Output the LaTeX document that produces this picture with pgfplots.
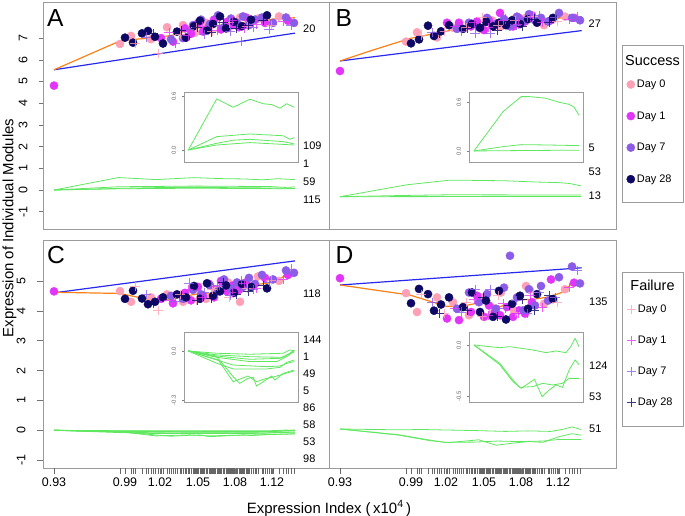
\documentclass[border=0pt]{standalone}
\usepackage{pgfplots}
\pgfplotsset{compat=1.18}
\usepackage{pgfplotstable}
\usepackage{fontspec}
\setmainfont{Liberation Sans}

\definecolor{cD0}{RGB}{255,160,182}
\definecolor{cD1}{RGB}{226,52,250}
\definecolor{cD7}{RGB}{140,92,232}
\definecolor{cD28}{RGB}{12,8,100}
\definecolor{corange}{RGB}{255,128,20}
\definecolor{cblue}{RGB}{40,40,245}
\definecolor{cgreen}{RGB}{95,232,95}
\definecolor{cframe}{RGB}{155,155,155}

% Success (circles): u = position along expression index, yA..yD = module expression in panels A..D
\pgfplotstableread{
u yA yB yC yD
77 6.73 6.33 4.66 4.18
88 7.10 6.71 4.30 3.60
108 6.95 6.50 4.45 4.05
124 7.50 6.90 4.55 3.90
140 7.60 7.05 4.30 3.50
152 7.25 6.85 4.75 4.05
163 7.70 7.20 4.40 3.55
172 7.85 6.95 4.70 4.20
185 7.45 7.25 4.95 3.65
197 7.95 7.30 4.30 4.40
215 7.90 7.00 5.15 3.85
236 8.00 7.35 5.00 4.30
}\sdzero
\pgfplotstableread{
u yA yB yC yD
11 4.81 5.13 4.65 4.64
118 7.00 7.10 4.40 3.40
130 6.84 7.10 4.25 3.35
142 7.45 6.95 4.60 3.60
148 7.20 7.15 4.35 4.10
155 7.70 6.80 4.80 3.45
160 7.30 7.20 4.50 3.80
166 7.55 7.00 4.90 3.60
171 7.85 7.50 4.45 3.50
178 7.40 7.10 5.00 3.75
184 7.75 6.95 4.65 3.45
190 7.60 7.30 4.85 3.65
196 7.50 7.15 4.70 3.55
203 7.95 7.40 4.95 3.90
222 7.70 7.20 5.10 4.60
245 7.80 7.30 5.20 4.50
}\sdone
\pgfplotstableread{
u yA yB yC yD
128 6.95 6.85 4.50 3.70
140 7.00 7.10 4.40 4.20
150 7.60 6.90 4.70 3.90
158 7.85 7.30 4.55 4.15
167 7.65 7.05 4.85 3.70
175 8.05 7.25 4.65 4.35
181 7.50 6.95 5.05 5.33
188 7.90 7.35 4.75 4.05
194 7.70 7.15 4.95 3.65
200 8.00 7.45 4.80 4.30
206 7.60 7.20 5.10 3.80
212 7.85 7.30 4.90 4.40
219 7.95 7.15 5.20 3.95
230 7.70 7.50 5.05 4.67
243 7.95 7.30 5.35 5.00
251 7.70 7.20 5.27 4.48
}\sdseven
\pgfplotstableread{
u yA yB yC yD
82 7.02 6.26 4.40 3.87
90 6.79 6.42 4.67 4.31
99 7.22 6.98 4.41 4.15
105 7.33 6.56 4.22 3.64
112 7.06 6.75 4.30 3.83
120 6.75 7.00 4.45 4.05
134 7.30 6.85 4.55 3.75
143 7.02 7.05 4.45 4.20
151 7.55 6.90 4.83 3.60
157 7.80 7.15 4.40 3.95
164 7.35 6.95 4.92 3.45
170 7.65 7.10 4.50 4.25
177 8.00 7.00 4.65 3.37
183 7.45 7.20 4.85 3.85
191 7.75 7.05 4.60 4.10
199 7.55 7.25 4.90 3.70
208 7.85 7.10 4.80 4.15
224 8.05 7.30 4.75 4.00
}\sdtwentyeight
% Failure (pluses)
\pgfplotstableread{
u yA yB yC yD
92 6.75 6.60 4.80 4.14
115 6.30 6.75 4.00 3.56
137 7.15 6.90 4.55 3.90
153 7.50 7.30 4.35 3.45
169 7.30 7.00 4.70 4.10
186 7.70 7.20 4.45 3.60
204 7.55 7.35 4.75 4.20
228 7.60 7.15 5.00 3.90
}\fdzero
\pgfplotstableread{
u yA yB yC yD
126 7.25 6.95 4.35 3.70
145 7.10 7.10 4.70 4.00
159 7.55 6.90 4.45 3.50
174 7.35 7.20 4.80 3.85
189 7.80 7.05 4.60 3.55
201 7.45 7.30 4.90 4.10
213 7.65 7.10 4.75 3.75
240 7.75 7.25 5.05 4.35
}\fdone
\pgfplotstableread{
u yA yB yC yD
103 7.05 6.70 4.55 3.90
132 6.76 6.75 4.30 3.60
146 7.40 6.67 4.93 4.30
161 7.15 6.67 4.60 4.30
176 7.60 7.25 4.85 3.70
187 7.30 7.00 4.50 3.95
198 6.84 7.30 5.00 3.55
210 7.50 7.40 4.70 4.20
226 7.40 7.30 4.95 4.05
248 7.60 7.35 5.40 4.87
}\fdseven
\pgfplotstableread{
u yA yB yC yD
110 7.20 6.65 4.25 3.55
138 7.35 6.85 4.50 3.65
154 7.50 7.00 4.35 4.05
168 7.25 6.80 4.40 3.45
180 7.70 7.15 4.95 3.80
193 7.45 6.95 4.55 4.00
205 7.60 7.25 4.65 3.65
220 7.80 7.10 4.85 4.10
}\fdtwentyeight

\pgfplotsset{
  panel/.style={scale only axis, anchor=south west, xmin=0, xmax=286,
    axis line style={draw=cframe, line width=0.9pt},
    tick style={draw=black!55, line width=0.5pt},
    tick align=outside, major tick length=4bp,
    xtick pos=bottom, ytick pos=left,
    xtick=\empty, ytick=\empty,
    ticklabel style={font=\fontsize{12.5}{14}\selectfont},
    yticklabel style={rotate=90, anchor=south},
    yticklabel shift=8bp,
    /pgf/number format/assume math mode=true,
  },
  bottompanel/.style={
    xtick={11,82,117,155,192,229},
    xticklabels={0.93,0.99,1.02,1.05,1.08,1.12},
    major tick length=6bp,
    extra x ticks={11,77,82,88,90,92,99,103,105,108,110,112,115,118,120,124,126,128,130,132,134,137,138,140,142,143,145,146,148,150,151,152,153,154,155,157,158,159,160,161,163,164,166,167,168,169,170,171,172,174,175,176,177,178,180,181,183,184,185,186,187,188,189,190,191,193,194,196,197,198,199,200,201,203,204,205,206,208,210,212,213,215,219,220,222,224,226,228,230,236,240,243,245,248,251},
    extra x tick labels={},
    extra x tick style={major tick length=6bp, tick style={draw=black!60, line width=0.4pt}},
  },
  inset/.style={scale only axis, anchor=south west, width=114bp, height=70bp,
    axis line style={draw=cframe, line width=0.8pt},
    axis background/.style={fill=white},
    xtick=\empty, ytick pos=left, tick align=outside, major tick length=2.5bp,
    tick style={draw=black!50, line width=0.4pt},
    yticklabel style={rotate=90, anchor=south, font=\fontsize{6}{7}\selectfont, text=black!60},
    yticklabel shift=2bp,
  },
  sc/.style={only marks, mark=*, mark size=4.1pt, color=#1},
  fp/.style={only marks, mark=+, mark size=4.6pt, color=#1, mark options={line width=0.9pt, opacity=0.8}},
  gl/.style={cgreen, line width=0.8pt, forget plot},
  bl/.style={cblue, line width=1.2pt, forget plot},
  ol/.style={corange, line width=1.2pt, forget plot},
  legimg/.style={legend image code/.code={\draw[##1] plot coordinates {(0bp,0bp)};}},
}
\tikzset{
  lab/.style={anchor=west, inner sep=0pt, font=\fontsize{11}{13}\selectfont},
  letter/.style={anchor=base west, inner sep=0pt, font=\fontsize{24.7}{26}\selectfont},
}

\begin{document}
\begin{tikzpicture}
\path[use as bounding box] (0,0) rectangle (685bp,516bp);

% ---------------- Panel A ----------------
\begin{axis}[panel, at={(43bp,287bp)}, width=286bp, height=227bp,
  ymin=-1.797, ymax=8.664, ytick={-1,0,1,2,3,4,5,6,7}, yticklabels={-1,0,1,2,3,4,5,6,7}]
\addplot[gl] coordinates {(11,0) (75.5,0.574) (113,0.48) (151,0.57) (181.5,0.52) (200.6,0.51) (219.5,0.47) (234.7,0.52) (252,0.48)};
\addplot[gl] coordinates {(11,0) (75.5,0.15) (151,0.18) (227,0.16) (242,0.12) (252,0.14)};
\addplot[gl] coordinates {(11,0) (75.5,0.075) (113,0.11) (151,0.12) (227,0.094) (252,0.068)};
\addplot[gl] coordinates {(11,0) (75.5,0.056) (151,0.083) (252,0.056)};
\addplot[sc=cD0, forget plot] table[x=u, y=yA] {\sdzero};
\addplot[sc=cD1, forget plot] table[x=u, y=yA] {\sdone};
\addplot[sc=cD7, forget plot] table[x=u, y=yA] {\sdseven};
\addplot[sc=cD28, forget plot] table[x=u, y=yA] {\sdtwentyeight};
\addplot[fp=cD0, forget plot] table[x=u, y=yA] {\fdzero};
\addplot[fp=cD1, forget plot] table[x=u, y=yA] {\fdone};
\addplot[fp=cD7, forget plot] table[x=u, y=yA] {\fdseven};
\addplot[fp=cD28, forget plot] table[x=u, y=yA] {\fdtwentyeight};
\addplot[bl] coordinates {(11,5.54) (252,7.23)};
\addplot[ol] coordinates {(11,5.54) (77,6.87) (90.3,6.94) (113.7,7.02) (130.3,7.14) (147,7.40) (163.7,7.53) (190.3,7.65) (217,7.76) (230.3,7.88) (252,7.94)};
\end{axis}
\begin{axis}[inset, at={(184bp,354bp)}, xmin=1.2, xmax=260.5, ymin=-0.135, ymax=0.652,
  ytick={0,0.6}, yticklabels={0.0,0.6}]
\addplot[gl] coordinates {(11,0) (75.5,0.574) (113,0.48) (151,0.57) (181.5,0.52) (200.6,0.51) (219.5,0.47) (234.7,0.52) (252,0.48)};
\addplot[gl] coordinates {(11,0) (75.5,0.15) (151,0.18) (227,0.16) (242,0.12) (252,0.14)};
\addplot[gl] coordinates {(11,0) (75.5,0.075) (113,0.11) (151,0.12) (227,0.094) (252,0.068)};
\addplot[gl] coordinates {(11,0) (75.5,0.056) (151,0.083) (252,0.056)};
\end{axis}

% ---------------- Panel B ----------------
\begin{axis}[panel, at={(329bp,287bp)}, width=287bp, height=227bp, xmax=287,
  ymin=-1.318, ymax=7.947, legimg,
  legend style={at={(1.0373,0.6656)}, anchor=north west, draw=none, fill=none,
    inner sep=0pt, outer sep=0pt, row sep=18.5bp, font=\fontsize{11}{13}\selectfont,
    nodes={inner sep=2bp}},
  legend cell align=left]
\addplot[gl] coordinates {(11,0) (77.7,0.485) (119.4,0.67) (138,0.67) (176,0.65) (206.6,0.6) (229,0.575) (240.7,0.54) (252,0.44)};
\addplot[gl] coordinates {(11,0) (77.7,0.053) (119.4,0.078) (176,0.074) (252,0.066)};
\addplot[gl] coordinates {(11,0) (119.4,0.005) (252,0.01)};
\addplot[sc=cD0] table[x=u, y=yB] {\sdzero};
\addlegendentry{Day 0}
\addplot[sc=cD1] table[x=u, y=yB] {\sdone};
\addlegendentry{Day 1}
\addplot[sc=cD7] table[x=u, y=yB] {\sdseven};
\addlegendentry{Day 7}
\addplot[sc=cD28] table[x=u, y=yB] {\sdtwentyeight};
\addlegendentry{Day 28}
\addplot[fp=cD0, forget plot] table[x=u, y=yB] {\fdzero};
\addplot[fp=cD1, forget plot] table[x=u, y=yB] {\fdone};
\addplot[fp=cD7, forget plot] table[x=u, y=yB] {\fdseven};
\addplot[fp=cD28, forget plot] table[x=u, y=yB] {\fdtwentyeight};
\addplot[bl] coordinates {(11,5.54) (252.7,6.78)};
\addplot[ol] coordinates {(11,5.54) (44.3,5.99) (81,6.46) (114.3,6.73) (147.7,7.00) (187.7,7.14) (224,7.24) (237.7,7.35) (252.7,7.25)};
\end{axis}
\begin{axis}[inset, at={(469bp,354bp)}, xmin=-0.4, xmax=261.1, ymin=-0.136, ymax=0.727,
  ytick={0,0.6}, yticklabels={0.0,0.6}]
\addplot[gl] coordinates {(11,0) (77.7,0.485) (119.4,0.67) (138,0.67) (176,0.65) (206.6,0.6) (229,0.575) (240.7,0.54) (252,0.44)};
\addplot[gl] coordinates {(11,0) (77.7,0.053) (119.4,0.078) (176,0.074) (252,0.066)};
\addplot[gl] coordinates {(11,0) (119.4,0.005) (252,0.01)};
\end{axis}

% ---------------- Panel C ----------------
\begin{axis}[panel, bottompanel, at={(43bp,48bp)}, width=286bp, height=228bp,
  ymin=-1.262, ymax=6.369, ytick={-1,0,1,2,3,4,5}, yticklabels={-1,0,1,2,3,4,5}]
\addplot[gl] coordinates {(11,0) (75.5,-0.035) (113,-0.157) (128,-0.198) (147,-0.167) (158.5,-0.16) (166,-0.214) (181.5,-0.188) (200.6,-0.153) (208,-0.178) (227,-0.137) (252,-0.116)};
\addplot[gl] coordinates {(11,0) (79.3,-0.055) (113,-0.188) (147,-0.153) (166,-0.188) (189,-0.167) (204,-0.16) (227,-0.141) (252,-0.122)};
\addplot[gl] coordinates {(11,0) (75.5,-0.055) (113,-0.086) (189,-0.096) (219.5,-0.092) (234.7,-0.076) (252,-0.065)};
\addplot[gl] coordinates {(11,0) (75.5,-0.075) (113,-0.11) (189,-0.11) (219.5,-0.1) (234.7,-0.07) (252,-0.055)};
\addplot[gl] coordinates {(11,0) (75.5,-0.024) (151,-0.035) (227,-0.039) (242,-0.014) (252,0.006)};
\addplot[gl] coordinates {(11,0) (75.5,-0.014) (151,-0.02) (227,-0.014) (242,0.006) (252,0.002)};
\addplot[gl] coordinates {(11,0) (75.5,-0.031) (151,-0.051) (219.5,-0.045) (234.7,-0.024) (252,-0.006)};
\addplot[gl] coordinates {(11,0) (75.5,-0.039) (151,-0.065) (212,-0.065) (234.7,-0.035) (252,0.0)};
\addplot[sc=cD0, forget plot] table[x=u, y=yC] {\sdzero};
\addplot[sc=cD1, forget plot] table[x=u, y=yC] {\sdone};
\addplot[sc=cD7, forget plot] table[x=u, y=yC] {\sdseven};
\addplot[sc=cD28, forget plot] table[x=u, y=yC] {\sdtwentyeight};
\addplot[fp=cD0, forget plot] table[x=u, y=yC] {\fdzero};
\addplot[fp=cD1, forget plot] table[x=u, y=yC] {\fdone};
\addplot[fp=cD7, forget plot] table[x=u, y=yC] {\fdseven};
\addplot[fp=cD28, forget plot] table[x=u, y=yC] {\fdtwentyeight};
\addplot[bl] coordinates {(11,4.60) (252,5.67)};
\addplot[ol] coordinates {(11,4.62) (77,4.58) (103.7,4.39) (117,4.34) (133.7,4.44) (157,4.58) (173.7,4.55) (190.3,4.69) (210.3,4.86) (227,4.94) (243.7,5.19) (252,5.27)};
\end{axis}
\begin{axis}[inset, at={(184bp,114bp)}, xmin=1.2, xmax=260.5, ymin=-0.312, ymax=0.116,
  ytick={-0.3,0}, yticklabels={-0.3,0.0}]
\addplot[gl] coordinates {(11,0) (75.5,-0.035) (113,-0.157) (128,-0.198) (147,-0.167) (158.5,-0.16) (166,-0.214) (181.5,-0.188) (200.6,-0.153) (208,-0.178) (227,-0.137) (252,-0.116)};
\addplot[gl] coordinates {(11,0) (79.3,-0.055) (113,-0.188) (147,-0.153) (166,-0.188) (189,-0.167) (204,-0.16) (227,-0.141) (252,-0.122)};
\addplot[gl] coordinates {(11,0) (75.5,-0.055) (113,-0.086) (189,-0.096) (219.5,-0.092) (234.7,-0.076) (252,-0.065)};
\addplot[gl] coordinates {(11,0) (75.5,-0.075) (113,-0.11) (189,-0.11) (219.5,-0.1) (234.7,-0.07) (252,-0.055)};
\addplot[gl] coordinates {(11,0) (75.5,-0.024) (151,-0.035) (227,-0.039) (242,-0.014) (252,0.006)};
\addplot[gl] coordinates {(11,0) (75.5,-0.014) (151,-0.02) (227,-0.014) (242,0.006) (252,0.002)};
\addplot[gl] coordinates {(11,0) (75.5,-0.031) (151,-0.051) (219.5,-0.045) (234.7,-0.024) (252,-0.006)};
\addplot[gl] coordinates {(11,0) (75.5,-0.039) (151,-0.065) (212,-0.065) (234.7,-0.035) (252,0.0)};
\end{axis}

% ---------------- Panel D ----------------
\begin{axis}[panel, bottompanel, at={(329bp,48bp)}, width=287bp, height=228bp, xmax=287,
  ymin=-1.2, ymax=5.815, ytick=\empty, legimg,
  legend style={at={(1.0373,0.7241)}, anchor=north west, draw=none, fill=none,
    inner sep=0pt, outer sep=0pt, row sep=18bp, font=\fontsize{11}{13}\selectfont,
    nodes={inner sep=2bp}},
  legend cell align=left]
\addplot[gl] coordinates {(11,0) (70,-0.026) (92.9,-0.016) (145.9,-0.048) (176.2,-0.074) (199,-0.058) (221.7,-0.074) (233,-0.016) (242.9,0.065) (252,-0.016)};
\addplot[gl] coordinates {(11,0) (70,-0.177) (100.4,-0.339) (115.6,-0.41) (145.9,-0.403) (168.6,-0.371) (191.3,-0.387) (214,-0.371) (229.3,-0.323) (252,-0.323)};
\addplot[gl] coordinates {(11,0) (70,-0.19) (100.4,-0.355) (119.4,-0.42) (149.7,-0.332) (167.2,-0.5) (183.8,-0.435) (199,-0.387) (214,-0.41) (229.3,-0.242) (242.9,-0.145) (252,-0.19)};
\addplot[sc=cD0, forget plot] table[x=u, y=yD] {\sdzero};
\addplot[sc=cD1, forget plot] table[x=u, y=yD] {\sdone};
\addplot[sc=cD7, forget plot] table[x=u, y=yD] {\sdseven};
\addplot[sc=cD28, forget plot] table[x=u, y=yD] {\sdtwentyeight};
\addplot[fp=cD0] table[x=u, y=yD] {\fdzero};
\addlegendentry{Day 0}
\addplot[fp=cD1] table[x=u, y=yD] {\fdone};
\addlegendentry{Day 1}
\addplot[fp=cD7] table[x=u, y=yD] {\fdseven};
\addlegendentry{Day 7}
\addplot[fp=cD28] table[x=u, y=yD] {\fdtwentyeight};
\addlegendentry{Day 28}
\addplot[bl] coordinates {(11,4.43) (252.7,4.96)};
\addplot[ol] coordinates {(11,4.43) (81,4.12) (116.7,3.78) (131,3.76) (147.7,3.87) (152.7,3.92) (171,3.76) (187.7,3.97) (204.3,3.99) (221,4.07) (234.3,4.22) (244.3,4.53) (252.7,4.43)};
\end{axis}
\begin{axis}[inset, at={(469bp,114bp)}, xmin=-0.4, xmax=261.1, ymin=-0.552, ymax=0.126,
  ytick={-0.5,0}, yticklabels={-0.5,0.0}]
\addplot[gl] coordinates {(11,0) (70,-0.026) (92.9,-0.016) (145.9,-0.048) (176.2,-0.074) (199,-0.058) (221.7,-0.074) (233,-0.016) (242.9,0.065) (252,-0.016)};
\addplot[gl] coordinates {(11,0) (70,-0.177) (100.4,-0.339) (115.6,-0.41) (145.9,-0.403) (168.6,-0.371) (191.3,-0.387) (214,-0.371) (229.3,-0.323) (252,-0.323)};
\addplot[gl] coordinates {(11,0) (70,-0.19) (100.4,-0.355) (119.4,-0.42) (149.7,-0.332) (167.2,-0.5) (183.8,-0.435) (199,-0.387) (214,-0.41) (229.3,-0.242) (242.9,-0.145) (252,-0.19)};
\end{axis}

% ---------------- Legend frames and titles ----------------
\draw[cframe, line width=0.8pt] (622bp,314bp) rectangle (683bp,471bp);
\node[anchor=base, inner sep=0pt, font=\fontsize{14.5}{16}\selectfont] at (652.5bp,450.8bp) {Success};
\draw[cframe, line width=0.8pt] (622bp,90bp) rectangle (683bp,244bp);
\node[anchor=base, inner sep=0pt, font=\fontsize{14.5}{16}\selectfont] at (652.5bp,225.8bp) {Failure};

% ---------------- Panel letters ----------------
\node[letter] at (47bp,489bp) {A};
\node[letter] at (335.5bp,489bp) {B};
\node[letter] at (47bp,252.5bp) {C};
\node[letter] at (335.5bp,252bp) {D};

% ---------------- Module labels ----------------
\node[lab] at (303bp,487bp) {20};
\node[lab] at (303bp,370bp) {109};
\node[lab] at (303bp,352bp) {1};
\node[lab] at (303bp,334bp) {59};
\node[lab] at (303bp,316bp) {115};
\node[lab] at (588.5bp,492bp) {27};
\node[lab] at (588.5bp,368bp) {5};
\node[lab] at (588.5bp,344bp) {53};
\node[lab] at (588.5bp,320bp) {13};
\node[lab] at (303bp,222bp) {118};
\node[lab] at (303bp,176bp) {144};
\node[lab] at (303bp,159bp) {1};
\node[lab] at (303bp,142bp) {49};
\node[lab] at (303bp,125bp) {5};
\node[lab] at (303bp,108bp) {86};
\node[lab] at (303bp,91bp) {58};
\node[lab] at (303bp,74bp) {53};
\node[lab] at (303bp,57bp) {98};
\node[lab] at (589bp,214bp) {135};
\node[lab] at (589bp,150bp) {124};
\node[lab] at (589bp,119bp) {53};
\node[lab] at (589bp,87bp) {51};

% ---------------- Axis titles ----------------
\node[anchor=base, inner sep=0pt, font=\fontsize{15}{17}\selectfont] at (329bp,3bp) {Expression Index (\,x10\textsuperscript{4}\,)};
\node[rotate=90, anchor=base, inner sep=0pt, font=\fontsize{15}{17}\selectfont] at (13.3bp,288bp) {Expression of Individual Modules};
\end{tikzpicture}
\end{document}
